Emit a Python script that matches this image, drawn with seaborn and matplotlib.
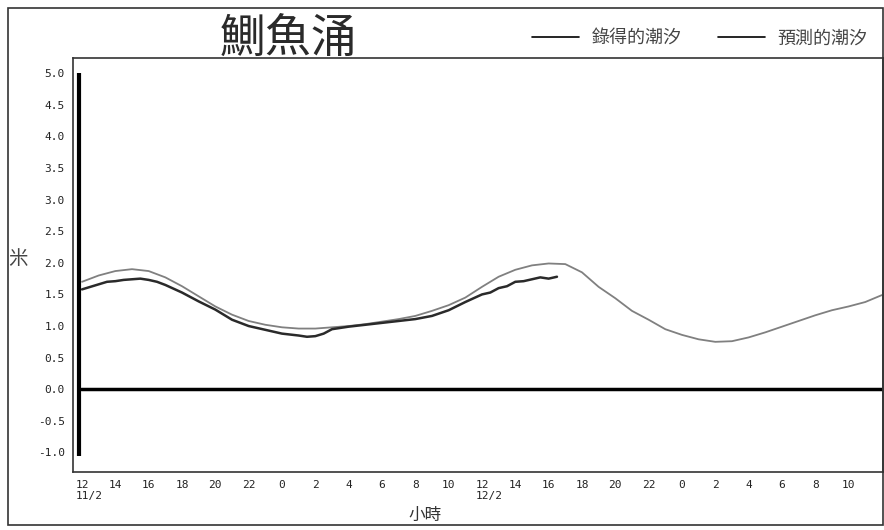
import seaborn as sns
import pandas as pd
import matplotlib.pyplot as plt
from matplotlib.patches import Rectangle
from matplotlib.lines import Line2D

# hours counted from 12:00 on 11/2
pred_hours = list(range(0, 49))
pred_level = [1.70, 1.80, 1.87, 1.90, 1.87, 1.77, 1.63, 1.47, 1.31, 1.18,
              1.08, 1.02, 0.98, 0.96, 0.96, 0.98, 1.00, 1.03, 1.07, 1.11,
              1.16, 1.24, 1.33, 1.45, 1.62, 1.78, 1.89, 1.96, 1.99, 1.98,
              1.85, 1.62, 1.44, 1.24, 1.10, 0.95, 0.86, 0.79, 0.75, 0.76,
              0.82, 0.90, 0.99, 1.08, 1.17, 1.25, 1.31, 1.38, 1.49]

rec_hours = [0, 0.5, 1, 1.5, 2, 2.5, 3, 3.5, 4, 4.5, 5, 6, 7, 8, 9, 10, 11,
             12, 13, 13.5, 14, 14.5, 15, 15.5, 16, 17, 18, 19, 20, 21, 22,
             23, 24, 24.5, 25, 25.5, 26, 26.5, 27, 27.5, 28, 28.5]
rec_level = [1.58, 1.62, 1.66, 1.70, 1.71, 1.73, 1.74, 1.75, 1.73, 1.70, 1.65,
             1.53, 1.39, 1.26, 1.10, 1.00, 0.94, 0.88, 0.85, 0.83, 0.84, 0.88,
             0.95, 0.97, 0.99, 1.02, 1.05, 1.08, 1.11, 1.16, 1.25,
             1.38, 1.50, 1.53, 1.60, 1.63, 1.70, 1.71, 1.74, 1.77, 1.75, 1.78]

tick_hours = list(range(0, 48, 2))
tick_labels = ["12", "14", "16", "18", "20", "22", "0", "2", "4", "6",
               "8", "10", "12", "14", "16", "18", "20", "22", "0", "2",
               "4", "6", "8", "10"]
date_hours = [0, 24]
date_labels = ["11/2", "12/2"]
y_ticks = [5.0, 4.5, 4.0, 3.5, 3.0, 2.5, 2.0, 1.5, 1.0, 0.5, 0.0, -0.5, -1.0]

pred = pd.DataFrame({"hour": pred_hours, "level": pred_level})
rec = pd.DataFrame({"hour": rec_hours, "level": rec_level})

sns.set_theme(style="white")
plt.rcParams["font.family"] = ["Noto Sans CJK TC", "DejaVu Sans"]

fig = plt.figure(figsize=(8.84, 5.3), dpi=100)
ax = fig.add_axes([0.0826, 0.1094, 0.916, 0.781])

sns.lineplot(data=pred, x="hour", y="level", ax=ax, color="#808080", lw=1.3)
sns.lineplot(data=rec, x="hour", y="level", ax=ax, color="#2a2a2a", lw=1.8)

ax.axhline(0, xmin=0.01, color="black", lw=2.5)
ax.vlines(-0.2, -1.05, 5.0, color="black", lw=3)

ax.set_xlim(-0.54, 48.05)
ax.set_ylim(-1.31, 5.24)
ax.set_xticks(tick_hours)
ax.set_xticklabels(tick_labels, family="DejaVu Sans Mono", fontsize=8,
                   color="#222222")
ax.set_yticks(y_ticks)
ax.set_yticklabels([f"{v:.1f}" for v in y_ticks], family="DejaVu Sans Mono",
                   fontsize=8, color="#222222")
ax.tick_params(length=0, pad=6)

for h, d in zip(date_hours, date_labels):
    ax.text(h - 0.35, -0.045, d, transform=ax.get_xaxis_transform(),
            family="DejaVu Sans Mono", fontsize=8, color="#222222",
            ha="left", va="top")

for s in ax.spines.values():
    s.set_color("#333333")
    s.set_linewidth(1.2)

ax.set_xlabel("小時", fontsize=12, color="#333333")
ax.xaxis.set_label_coords(0.435, -0.085)
ax.set_ylabel("米", fontsize=14, rotation=0, color="#444444")
ax.yaxis.set_label_coords(-0.068, 0.49)

fig.text(0.326, 0.928, "鰂魚涌", fontsize=33, ha="center", va="center",
         color="#2a2a2a", fontweight="normal")

handles = [Line2D([], [], color="black", lw=1.2),
           Line2D([], [], color="black", lw=1.2)]
fig.legend(handles, ["錄得的潮汐", "預測的潮汐"], loc="center right",
           bbox_to_anchor=(1.0, 0.928), ncol=2, frameon=False, fontsize=13,
           handlelength=2.6, handletextpad=0.7, columnspacing=2.0,
           labelcolor="#444444")

fig.patches.append(Rectangle((0.009, 0.01), 0.99, 0.975, transform=fig.transFigure,
                             fill=False, edgecolor="#333333", lw=1.2))

fig.savefig("out.png", dpi=100)
